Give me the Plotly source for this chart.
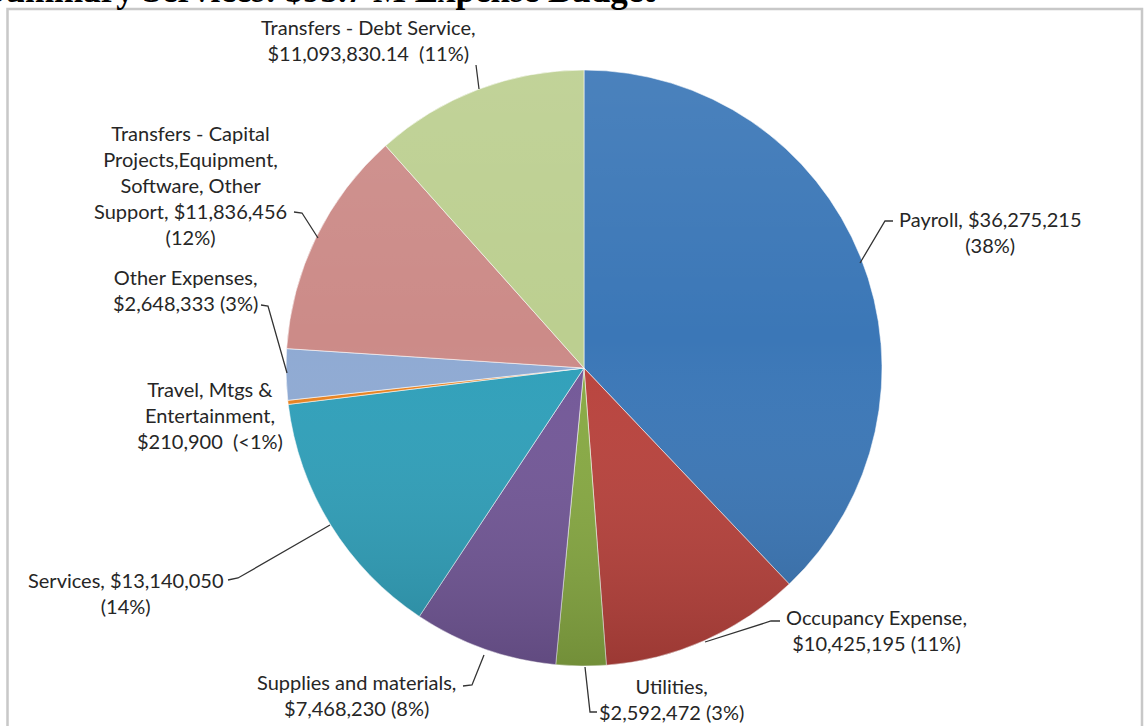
import urllib.parse
import plotly.graph_objects as go

# ---- data ----
categories = [
    "Payroll",
    "Occupancy Expense",
    "Utilities",
    "Supplies and materials",
    "Services",
    "Travel, Mtgs & Entertainment",
    "Other Expenses",
    "Transfers - Capital Projects,Equipment, Software, Other Support",
    "Transfers - Debt Service",
]
values = [36275215, 10425195, 2592472, 7468230, 13140050, 210900, 2648333, 11836456, 11093830.14]
colors = ["#3b77b7", "#b9433d", "#88aa43", "#735898", "#30a0ba", "#e8821f", "#8faad3", "#cc8b88", "#bccf90"]
label_texts = [
    "Payroll, $36,275,215<br>(38%)",
    "Occupancy Expense,<br>$10,425,195 (11%)",
    "Utilities,<br>$2,592,472 (3%)",
    "Supplies and materials,<br>$7,468,230 (8%)",
    "Services, $13,140,050<br>(14%)",
    "Travel, Mtgs &amp;<br>Entertainment,<br>$210,900\u00a0 (&lt;1%)",
    "Other Expenses,<br>$2,648,333 (3%)",
    "Transfers - Capital<br>Projects,Equipment,<br>Software, Other<br>Support, $11,836,456<br>(12%)",
    "Transfers - Debt Service,<br>$11,093,830.14\u00a0 (11%)",
]
title_text = "Summary Services: $95.7 M Expense Budget"

# ---- layout helpers (pixel -> paper) ----
W, H = 1145, 726
def px(x, y):
    return x / W, 1 - y / H

cx, cy, R = 584, 368, 298

label_pos = [(990, 232), (876, 630), (672, 699), (356, 695), (125, 593),
             (210, 415), (185, 290), (190, 185), (368, 40)]
leaders = [
    [(893, 221), (885, 221), (860, 263)],
    [(780, 621), (771, 621), (705, 642)],
    [(585, 667), (590, 712), (597, 712)],
    [(484, 655), (472, 685), (463, 686)],
    [(228, 580), (238, 578), (330, 525)],
    None,
    [(261, 305), (268, 306), (287, 373)],
    [(294, 212), (302, 213), (318, 238)],
    [(476, 65), (479, 89)],
]

fig = go.Figure()
fig.add_trace(go.Pie(
    labels=categories, values=values, sort=False, direction="clockwise", rotation=0,
    marker=dict(colors=colors, line=dict(color="rgba(255,255,255,0.55)", width=1)),
    textinfo="none", hoverinfo="label+value+percent", showlegend=False,
    domain=dict(x=[(cx - R) / W, (cx + R) / W], y=[1 - (cy + R) / H, 1 - (cy - R) / H]),
))

annotations = []
for txt, (x, y) in zip(label_texts, label_pos):
    xp, yp = px(x, y)
    annotations.append(dict(
        text=txt, x=xp, y=yp, xref="paper", yref="paper", xanchor="center", yanchor="middle",
        showarrow=False, align="center",
        font=dict(family="Lato, 'Open Sans', sans-serif", size=20, color="#262626"),
    ))

tx, ty = px(-16, -9)
annotations.append(dict(
    text="<b>" + title_text + "</b>", x=tx, y=ty, xref="paper", yref="paper",
    xanchor="left", yanchor="middle", showarrow=False,
    font=dict(family="'Liberation Serif', serif", size=35, color="#000000"),
))

shapes = []
for pts in leaders:
    if not pts:
        continue
    path = ""
    for i, (x, y) in enumerate(pts):
        xp, yp = px(x, y)
        path += ("M" if i == 0 else "L") + f"{xp},{yp} "
    shapes.append(dict(type="path", xref="paper", yref="paper", path=path,
                       line=dict(color="#333333", width=1.3)))

# chart-area border
bx0, by0 = px(7.5, 9)
bx1, by1 = px(1142, 740)
shapes.append(dict(type="rect", xref="paper", yref="paper", x0=bx0, y0=by1, x1=bx1, y1=by0,
                   line=dict(color="#c8c8c8", width=2.5), layer="below"))

# vertical shading overlay (slightly light top, darker bottom) like the original's gradient fill
svg = (
    f'<svg xmlns="http://www.w3.org/2000/svg" width="{2*R}" height="{2*R}" viewBox="0 0 {2*R} {2*R}">'
    '<defs><linearGradient id="g" x1="0" y1="0" x2="0" y2="1">'
    '<stop offset="0" stop-color="#ffffff" stop-opacity="0.08"/>'
    '<stop offset="0.45" stop-color="#ffffff" stop-opacity="0"/>'
    '<stop offset="1" stop-color="#000000" stop-opacity="0.16"/>'
    '</linearGradient></defs>'
    f'<circle cx="{R}" cy="{R}" r="{R}" fill="url(#g)"/></svg>'
)
uri = "data:image/svg+xml;charset=utf-8," + urllib.parse.quote(svg)
ix, iy = px(cx - R, cy - R)

fig.update_layout(
    width=W, height=H, margin=dict(l=0, r=0, t=0, b=0),
    paper_bgcolor="white", plot_bgcolor="white",
    annotations=annotations, shapes=shapes,
    images=[dict(source=uri, xref="paper", yref="paper", x=ix, y=iy,
                 sizex=2 * R / W, sizey=2 * R / H, xanchor="left", yanchor="top",
                 sizing="stretch", layer="above")],
)

fig.write_html("out.html", config={"displayModeBar": False},
               post_script="document.body.style.margin='0px';document.body.style.overflow='hidden';")
